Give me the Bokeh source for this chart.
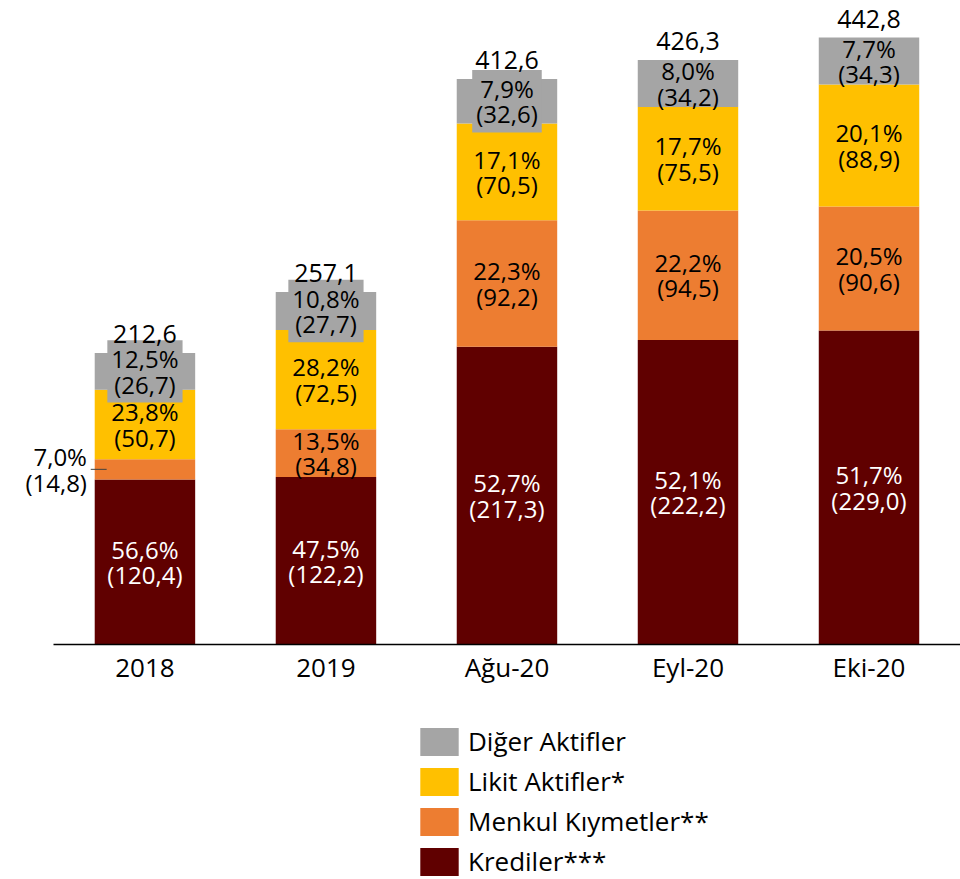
from bokeh.plotting import figure
from bokeh.models import Range1d, FixedTicker, ColumnDataSource, Legend, LegendItem
from bokeh.core.properties import value
from bokeh.embed import file_html
from bokeh.resources import INLINE

categories = ["2018", "2019", "Ağu-20", "Eyl-20", "Eki-20"]
krediler = [120.4, 122.2, 217.3, 222.2, 229.0]
menkul = [14.8, 34.8, 92.2, 94.5, 90.6]
likit = [50.7, 72.5, 70.5, 75.5, 88.9]
diger = [26.7, 27.7, 32.6, 34.2, 34.3]
totals = [212.6, 257.1, 412.6, 426.3, 442.8]
pct_krediler = [56.6, 47.5, 52.7, 52.1, 51.7]
pct_menkul = [7.0, 13.5, 22.3, 22.2, 20.5]
pct_likit = [23.8, 28.2, 17.1, 17.7, 20.1]
pct_diger = [12.5, 10.8, 7.9, 8.0, 7.7]
series_names = ["Krediler***", "Menkul Kıymetler**", "Likit Aktifler*", "Diğer Aktifler"]

colors = ["#600000", "#ED7D31", "#FFC000", "#A5A5A5"]
label_colors = ["white", "black", "black", "black"]
FONT = "Open Sans"
PX_PER_UNIT = 1.3708
BAR_W = 0.555
LH = 0.77

def fmt(v):
    return f"{v:.1f}".replace(".", ",")

xs = list(range(len(categories)))

p = figure(width=960, height=879, output_backend="svg", toolbar_location=None,
           x_range=Range1d(-0.798, 4.5055), y_range=Range1d(-171.4, 469.8),
           y_axis_location=None, x_axis_location="below",
           min_border_left=0, min_border_right=0, min_border_top=0, min_border_bottom=0,
           outline_line_color=None, background_fill_color="white", border_fill_color="white")
p.grid.visible = False

series_vals = [krediler, menkul, likit, diger]
series_pcts = [pct_krediler, pct_menkul, pct_likit, pct_diger]

bottom = [0.0] * len(xs)
renderers = []
for k, (vals, pcts) in enumerate(zip(series_vals, series_pcts)):
    top = [b + v for b, v in zip(bottom, vals)]
    src = ColumnDataSource(dict(x=xs, bottom=bottom, top=top))
    r = p.vbar(x="x", bottom="bottom", top="top", width=BAR_W, source=src,
               fill_color=colors[k], line_color=None)
    renderers.append(r)

    groups = {"in": ([], [], []), "boxed": ([], [], []), "out": ([], [], [])}
    for i, (v, pc) in enumerate(zip(vals, pcts)):
        txt = f"{fmt(pc)}%\n({fmt(v)})"
        mid = bottom[i] + v / 2
        h = v * PX_PER_UNIT
        if h < 30:
            key = "out"
        elif k == 3 and h < 46:
            key = "boxed"
        else:
            key = "in"
        groups[key][0].append(xs[i]); groups[key][1].append(mid); groups[key][2].append(txt)

    gx, gy, gt = groups["in"]
    if gx:
        p.text(x=gx, y=gy, text=gt, text_align="center", text_baseline="middle",
               text_font=value(FONT), text_font_size="24px", text_color=label_colors[k],
               text_line_height=LH)
    gx, gy, gt = groups["boxed"]
    if gx:
        p.text(x=gx, y=gy, text=gt, text_align="center", text_baseline="middle",
               text_font=value(FONT), text_font_size="24px", text_color=label_colors[k],
               text_line_height=LH, background_fill_color=colors[k], padding=dict(x=4, y=2))
    gx, gy, gt = groups["out"]
    if gx:
        p.text(x=gx, y=gy, text=gt, text_align="right", text_baseline="middle",
               text_font=value(FONT), text_font_size="24px", text_color="black",
               text_line_height=LH, x_offset=-58)
        p.segment(x0=[x - BAR_W / 2 - 0.022 for x in gx], x1=[x - BAR_W / 2 + 0.066 for x in gx],
                  y0=gy, y1=gy, line_color="#404040", line_width=1)
    bottom = top

p.text(x=xs, y=totals, text=[fmt(t) for t in totals], text_align="center",
       text_baseline="alphabetic", y_offset=-19, text_font=value(FONT),
       text_font_size="25px", text_color="black")

ax = p.xaxis[0]
ax.fixed_location = 0
ax.bounds = (xs[0] - 0.5055, xs[-1] + 0.5055)
ax.ticker = FixedTicker(ticks=xs)
ax.major_label_overrides = {i: c for i, c in zip(xs, categories)}
ax.major_tick_in = 0
ax.major_tick_out = 0
ax.minor_tick_in = 0
ax.minor_tick_out = 0
ax.axis_line_color = "black"
ax.axis_line_width = 1.5
ax.major_label_standoff = 4
ax.major_label_text_font = FONT
ax.major_label_text_font_size = "26px"
ax.major_label_text_color = "black"

items = [LegendItem(label=series_names[k], renderers=[renderers[k]]) for k in [3, 2, 1, 0]]
legend = Legend(items=items, location=(415, 0), orientation="vertical",
                glyph_width=48, glyph_height=35, spacing=4, label_standoff=5,
                padding=0, margin=0, border_line_color=None, background_fill_alpha=0,
                label_text_font=FONT, label_text_font_size="26px", label_text_color="black",
                label_height=35, label_text_baseline="middle")
p.add_layout(legend)

open("out.html", "w").write(file_html(p, INLINE))
